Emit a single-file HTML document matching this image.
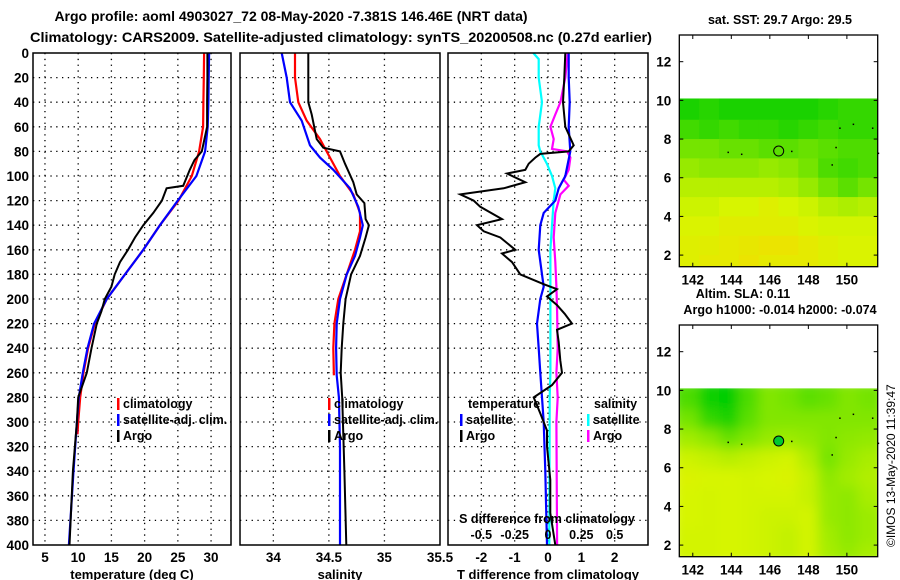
<!DOCTYPE html>
<html><head><meta charset="utf-8"><style>
body{margin:0;background:#fff;}
svg{display:block;font-family:"Liberation Sans",Arial,sans-serif;font-weight:bold;}
</style></head><body>
<svg id="chart" width="900" height="580" viewBox="0 0 900 580" xmlns="http://www.w3.org/2000/svg">
<text x="291" y="21" font-size="14" text-anchor="middle">Argo profile: aoml 4903027_72 08-May-2020 -7.381S 146.46E (NRT data)</text>
<text x="30" y="42" font-size="14" textLength="622" lengthAdjust="spacingAndGlyphs">Climatology: CARS2009. Satellite-adjusted climatology: synTS_20200508.nc (0.27d earlier)</text>
<g id="g"></g>
<text transform="translate(895,547) rotate(-90)" font-size="12" font-weight="normal">©IMOS 13-May-2020 11:39:47</text>
</svg>
<script>
// ---- data ----
const depthTicks=[0,20,40,60,80,100,120,140,160,180,200,220,240,260,280,300,320,340,360,380,400];
const tempTicks=[5,10,15,20,25,30];
const salTicks=[34,34.5,35,35.5];
const tdTicks=[-2,-1,0,1,2];
const sdTicks=[-0.5,-0.25,0,0.25,0.5];
const sdTickLabels=["-0.5","-0.25","0","0.25","0.5"];

const tClimDepth=[0,20,40,60,80,100,120,140,160,180,200,220,240,260,280,300,310];
const tClimVal=[28.95,28.9,28.85,28.8,28.2,27.1,25.1,22.3,19.8,17.05,14.3,12.5,11.5,10.8,10.3,10.0,9.9];
const tSatDepth=[0,20,40,60,80,100,120,140,160,180,200,220,240,260,280,300,340,400];
const tSatVal=[29.7,29.65,29.6,29.5,29.1,27.8,25.0,22.3,19.8,17.05,14.3,12.4,11.4,10.7,10.1,9.8,9.3,8.6];
const tArgoDepth=[0,20,40,60,80,87,95,108,110,120,130,140,150,160,170,180,190,200,210,220,240,260,280,300,340,400];
const tArgoVal=[29.45,29.45,29.4,29.4,28.6,27.5,26.8,25.8,23.3,22.6,21.3,19.8,18.55,17.5,16.3,15.5,15.0,14.0,13.5,12.8,12.0,11.3,10.0,9.8,9.2,8.7];

const sClimDepth=[0,20,40,55,70,85,100,115,130,145,160,180,200,220,240,262];
const sClimVal=[34.195,34.195,34.225,34.3,34.42,34.51,34.6,34.72,34.78,34.78,34.735,34.66,34.585,34.55,34.54,34.545];
const sSatDepth=[0,20,40,55,75,85,95,110,125,140,150,165,180,200,220,240,262,280,320,400];
const sSatVal=[34.075,34.12,34.15,34.255,34.33,34.42,34.54,34.69,34.765,34.805,34.78,34.735,34.66,34.6,34.57,34.565,34.57,34.59,34.6,34.6];
const sArgoDepth=[0,40,50,70,77,80,90,105,115,122,135,140,150,165,180,200,220,240,260,280,340,400];
const sArgoVal=[34.315,34.315,34.345,34.39,34.45,34.6,34.645,34.72,34.75,34.82,34.83,34.86,34.83,34.78,34.7,34.65,34.63,34.615,34.606,34.62,34.64,34.657];

const dTArgoDepth=[0,20,40,60,75,80,82,85,90,95,98,105,110,115,120,125,135,140,145,150,160,163,170,180,188,192,198,205,212,220,225,235,250,260,270,280,293,307,320,347,374,400];
const dTArgoVal=[0.52,0.49,0.45,0.52,0.77,0.62,-0.23,-0.38,-0.58,-0.68,-1.23,-0.68,-1.33,-2.63,-2.23,-2.03,-1.38,-2.13,-1.93,-1.43,-0.98,-1.38,-1.08,-0.83,-0.13,0.27,-0.03,0.27,0.5,0.72,0.27,0.32,0.37,0.42,0.12,-0.43,-0.23,-0.03,-0.03,0.07,0.07,0.22];
const dTSatDepth=[0,20,40,60,80,100,110,120,130,140,160,180,190,200,220,240,260,280,300,340,400];
const dTSatVal=[0.62,0.62,0.65,0.62,0.67,0.52,0.32,0.22,-0.13,-0.23,-0.28,-0.18,-0.13,-0.23,-0.33,-0.28,-0.23,-0.18,-0.13,-0.08,-0.03];
const dSSatDepth=[0,5,20,40,60,75,80,90,100,110,120,140,160,200,260,280,400];
const dSSatVal=[-0.11,-0.07,-0.07,-0.045,-0.07,-0.07,-0.058,-0.008,0.03,0.055,0.043,0.03,0.018,0.018,0.018,0.013,0.01];
const dSArgoDepth=[0,20,40,50,60,70,78,80,85,95,103,108,115,130,150,170,190,210,240,260,280,300,400];
const dSArgoVal=[0.148,0.13,0.093,0.055,0.018,0.043,0.03,0.143,0.168,0.155,0.118,0.155,0.093,0.055,0.043,0.055,0.063,0.068,0.073,0.063,0.073,0.063,0.068];

const map1Vals=[
[0.1,0.15,0.1,0.1,0.1,0.1,0.1,0.15,0.2,0.2],
[0.25,0.2,0.25,0.2,0.2,0.15,0.2,0.25,0.2,0.2],
[0.45,0.45,0.4,0.4,0.35,0.35,0.4,0.35,0.3,0.3],
[0.6,0.55,0.55,0.55,0.6,0.55,0.45,0.3,0.25,0.3],
[0.75,0.75,0.75,0.75,0.75,0.7,0.6,0.45,0.35,0.45],
[0.85,0.85,0.9,0.9,0.95,0.9,0.85,0.75,0.7,0.75],
[0.92,0.92,0.97,0.97,0.97,0.97,0.92,0.88,0.88,0.88],
[0.95,0.97,1.0,1.02,1.05,1.05,1.0,0.95,0.92,0.92],
[0.95,1.0,1.0,1.05,1.0,1.0,1.0,0.95,0.92,0.92]];
const map2Vals=[
[0.3,0.05,0.0,0.3,0.5,0.45,0.35,0.4,0.5,0.45],
[0.45,0.2,0.1,0.35,0.5,0.5,0.5,0.5,0.5,0.5],
[0.65,0.55,0.4,0.5,0.6,0.62,0.58,0.5,0.55,0.58],
[0.85,0.8,0.75,0.8,0.85,0.88,0.72,0.45,0.6,0.68],
[0.92,0.9,0.9,0.88,0.9,0.92,0.82,0.55,0.65,0.72],
[0.9,0.88,0.9,0.88,0.88,0.88,0.82,0.6,0.55,0.68],
[0.9,0.88,0.9,0.88,0.85,0.85,0.88,0.6,0.55,0.62],
[0.88,0.88,0.9,0.88,0.85,0.8,0.88,0.65,0.55,0.62],
[0.88,0.88,0.9,0.88,0.85,0.8,0.88,0.68,0.6,0.68]];
const mapLatTicks=[2,4,6,8,10,12];
const mapLonTicks=[142,144,146,148,150];
const argoLon=146.46, argoLat=7.38;

// ---- helpers ----
const NS="http://www.w3.org/2000/svg";
const G=document.getElementById('g');
function mk(tag,attrs,parent){const e=document.createElementNS(NS,tag);for(const k in attrs)e.setAttribute(k,attrs[k]);(parent||G).appendChild(e);return e;}
function txt(x,y,s,size,anchor,parent){const t=mk('text',{x:x,y:y,'font-size':size,'text-anchor':anchor||'middle'},parent);t.textContent=s;return t;}
const TOP=53,BOT=545;
const yD=d=>TOP+(BOT-TOP)*d/400;

function panel(name,x0,x1,xmin,xmax,ticks,labels,title){
  const sx=v=>x0+(x1-x0)*(v-xmin)/(xmax-xmin);
  const p=mk('g',{});
  
  
  depthTicks.forEach(d=>{
    if(d>0&&d<400){const l=mk('line',{x1:x0,x2:x1,y1:yD(d),y2:yD(d),stroke:'#000','stroke-width':1.3,'stroke-dasharray':'1.3,4.5'},p);
    }
  });
  ticks.forEach((v,i)=>{
    const x=sx(v);
    if(x>x0+1&&x<x1-1){const l=mk('line',{x1:x,x2:x,y1:TOP,y2:BOT,stroke:'#000','stroke-width':1.3,'stroke-dasharray':'1.3,4.5'},p);
    }
    const t=txt(x,562,labels[i],13.5,'middle',p);
    
  });
  if(title){const t=txt((x0+x1)/2,579,title,13,'middle',p);}
  return {sx,p,x0,x1};
}
function line(P,name,depths,vals,color,w){
  const pts=depths.map((d,i)=>P.sx(vals[i]).toFixed(1)+','+yD(d).toFixed(1)).join(' ');
  const l=mk('polyline',{points:pts,fill:'none',stroke:color,'stroke-width':w||2,'stroke-linejoin':'miter'},P.p);
  
  
}
function frame(P){const r=mk('rect',{x:P.x0,y:TOP,width:P.x1-P.x0,height:BOT-TOP,fill:'none',stroke:'#000','stroke-width':1.5},P.p);
  }
function legendEntry(P,x,y,color,label){
  const g=mk('g',{},P.p);
  
  
  if(color) mk('rect',{x:x,y:y-10,width:2.5,height:12,fill:color},g);
  txt(x+6,y,label,12.5,'start',g);
}

depthTicks.forEach(d=>{const t=txt(29,yD(d)+5,String(d),13.5,'end');
  });

const P1=panel('temperature-panel',33,231,3.2,33,tempTicks,tempTicks.map(String),'temperature (deg C)');
line(P1,'temp-climatology-line',tClimDepth,tClimVal,'#f00',2.2);
line(P1,'temp-satellite-line',tSatDepth,tSatVal,'#00f',2.2);
line(P1,'temp-argo-line',tArgoDepth,tArgoVal,'#000',2);
frame(P1);
legendEntry(P1,117,408,'#f00','climatology');
legendEntry(P1,117,424,'#00f','satellite-adj. clim.');
legendEntry(P1,117,440,'#000','Argo');

const P2=panel('salinity-panel',240,440,33.7,35.5,salTicks,salTicks.map(String),'salinity');
line(P2,'sal-climatology-line',sClimDepth,sClimVal,'#f00',2.2);
line(P2,'sal-satellite-line',sSatDepth,sSatVal,'#00f',2.2);
line(P2,'sal-argo-line',sArgoDepth,sArgoVal,'#000',2);
frame(P2);
legendEntry(P2,328,408,'#f00','climatology');
legendEntry(P2,328,424,'#00f','satellite-adj. clim.');
legendEntry(P2,328,440,'#000','Argo');

const P3=panel('difference-panel',448,648,-3,3,tdTicks,tdTicks.map(String),'T difference from climatology');
const P3s={sx:v=>P3.sx(v*4),p:P3.p};
line(P3s,'sal-diff-satellite-line',dSSatDepth,dSSatVal,'#0ff',2.2);
line(P3s,'sal-diff-argo-line',dSArgoDepth,dSArgoVal,'#f0f',2.2);
line(P3,'temp-diff-satellite-line',dTSatDepth,dTSatVal,'#00f',2.2);
line(P3,'temp-diff-argo-line',dTArgoDepth,dTArgoVal,'#000',2);
frame(P3);
sdTicks.forEach((v,i)=>{const t=txt(P3s.sx(v),539,sdTickLabels[i],12.5,'middle',P3.p);
  });
{const t=txt(547,523,'S difference from climatology',12.5,'middle',P3.p);}
legendEntry(P3,462,408,null,'temperature');
legendEntry(P3,460,424,'#00f','satellite');
legendEntry(P3,460,440,'#000','Argo');
legendEntry(P3,588,408,null,'salinity');
legendEntry(P3,587,424,'#0ff','satellite');
legendEntry(P3,587,440,'#f0f','Argo');

function col(v){
  const stops=[[0,[0,205,0]],[0.5,[130,230,0]],[0.9,[215,245,0]],[1.1,[242,222,0]]];
  v=Math.max(0,Math.min(1.1,v));
  for(let i=0;i<stops.length-1;i++){const a=stops[i],b=stops[i+1];
    if(v<=b[0]){const f=(v-a[0])/(b[0]-a[0]);return 'rgb('+a[1].map((c,j)=>Math.round(c+(b[1][j]-c)*f)).join(',')+')';}}
  return 'rgb(242,222,0)';
}
function map(name,top,bottom,vals,blur,title){
  const L=679.3,R=877.7,lonMin=141.3,lonMax=151.6,latMin=1.4,latMax=13.38;
  const sx=lon=>L+(R-L)*(lon-lonMin)/(lonMax-lonMin);
  const sy=lat=>bottom-(bottom-top)*(lat-latMin)/(latMax-latMin);
  const g=mk('g',{});
  
  
  const cid='clip'+name;
  const cp=mk('clipPath',{id:cid},g);mk('rect',{x:L,y:sy(10.1),width:R-L,height:bottom-sy(10.1)},cp);
  const cells=mk('g',{'clip-path':'url(#'+cid+')'},g);
  const inner=mk('g',blur?{filter:'url(#bl)'}:{},cells);
  const latEdges=[10.1,9,8,7,6,5,4,3,2,1.4];
  const nc=vals[0].length,dl=(lonMax-lonMin)/nc;
  vals.forEach((row,r)=>row.forEach((v,c)=>{
    const x0=sx(lonMin+c*dl)-(blur&&c==0?8:0),x1=sx(lonMin+(c+1)*dl)+(blur&&c==nc-1?8:0);
    const y0=sy(latEdges[r])-(blur&&r==0?8:0),y1=sy(latEdges[r+1])+(blur&&r==vals.length-1?8:0);
    const cell=mk('rect',{x:x0,y:y0,width:x1-x0+0.5,height:y1-y0+0.5,fill:col(v)},inner);
    
    
  }));
  mk('rect',{x:L,y:top,width:R-L,height:bottom-top,fill:'none',stroke:'#000','stroke-width':1.3},g);
  mapLatTicks.forEach(v=>{const y=sy(v);
    mk('line',{x1:L,x2:L+4,y1:y,y2:y,stroke:'#000'},g);mk('line',{x1:R-4,x2:R,y1:y,y2:y,stroke:'#000'},g);
    const t=txt(L-8,y+5,String(v),13.5,'end',g);});
  mapLonTicks.forEach(v=>{const x=sx(v);
    mk('line',{x1:x,x2:x,y1:top,y2:top+4,stroke:'#000'},g);mk('line',{x1:x,x2:x,y1:bottom-4,y2:bottom,stroke:'#000'},g);
    const t=txt(x,bottom+18,String(v),13.5,'middle',g);});
  const m=mk('circle',{cx:sx(argoLon),cy:sy(argoLat),r:5,fill:blur?'#00c830':'none',stroke:'#000','stroke-width':1},g);
  
  
  [[143.8,7.35],[144.5,7.25],[147.1,7.4],[149.4,7.6],[149.2,6.7],[149.6,8.6],[150.3,8.8],[151.3,8.6],[151.6,7.3]].forEach(p=>
    mk('rect',{x:sx(p[0]),y:sy(p[1]),width:1.5,height:1.5,fill:'#000'},g));
  const tt=txt(780,top-11,title,12.5,'middle',g);
}
const defs=mk('defs',{});
const f=mk('filter',{id:'bl',x:'-10%',y:'-10%',width:'120%',height:'120%'},defs);
mk('feGaussianBlur',{stdDeviation:6},f);
map('sst-map',35,266.7,map1Vals,false,'sat. SST: 29.7 Argo: 29.5');
map('sla-map',325,556.7,map2Vals,true,'Argo h1000: -0.014 h2000: -0.074');
{const t=txt(743,298,'Altim. SLA: 0.11',12.5,'middle');}
</script>
</body></html>
